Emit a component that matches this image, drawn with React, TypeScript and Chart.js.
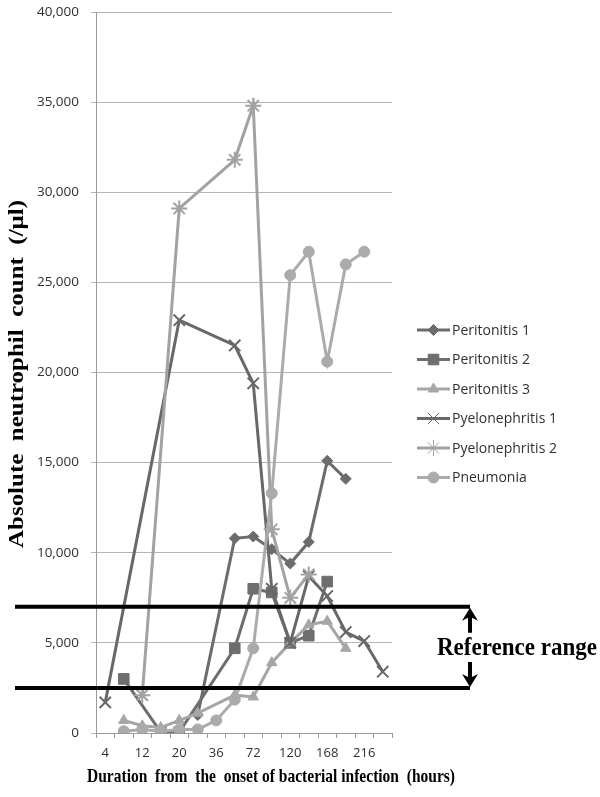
import React, { useEffect, useRef } from 'react';
import { Chart, registerables } from 'chart.js';
import { drawPoint } from 'chart.js/helpers';

Chart.register(...registerables);

// ---- data ----
const hours = ['4', '8', '12', '16', '20', '24', '36', '48', '72', '96', '120', '144', '168', '192', '216', '240'];
const seriesNames = ['Peritonitis 1', 'Peritonitis 2', 'Peritonitis 3', 'Pyelonephritis 1', 'Pyelonephritis 2', 'Pneumonia'];
const peritonitis1 = [null, null, null, null, null, 1000, null, 10800, 10900, 10200, 9400, 10600, 15100, 14100, null, null];
const peritonitis2 = [null, 3000, null, 50, 50, null, null, 4700, 8000, 7800, 5000, 5400, 8400, null, null, null];
const peritonitis3 = [null, 700, 400, 300, 700, 1100, null, 2100, 2000, 3900, 5000, 6000, 6200, 4700, null, null];
const pyelonephritis1 = [1700, null, null, null, 22900, null, null, 21500, 19400, 8000, 5000, 8700, 7600, 5600, 5100, 3400];
const pyelonephritis2 = [null, null, 2100, null, 29100, null, null, 31800, 34800, 11300, 7500, 8800, null, null, null, null];
const pneumonia = [null, 100, 200, 100, 200, 200, 700, 1850, 4700, 13300, 25400, 26700, 20600, 26000, 26700, null];
const referenceLow = 2500;
const referenceHigh = 7000;

const seriesValues = [peritonitis1, peritonitis2, peritonitis3, pyelonephritis1, pyelonephritis2, pneumonia];
const seriesColors = ['#6c6c6c', '#6e6e6e', '#a6a6a6', '#686868', '#a2a2a2', '#ababab'];
const seriesMarkers = ['rectRot', 'rect', 'triangle', 'crossRot', 'star', 'circle'];
const seriesRadii = [5.5, 7.5, 6, 8, 8, 5.5];

const SERIF = '"Liberation Serif", "Times New Roman", serif';
const SANS = '"Open Sans", "Noto Sans", sans-serif';

function fitText(ctx: CanvasRenderingContext2D, text: string, cx: number, cy: number, width: number, font: string, rotate = false) {
  ctx.save();
  ctx.font = font;
  ctx.fillStyle = '#000';
  ctx.textAlign = 'center';
  ctx.textBaseline = 'middle';
  const w = ctx.measureText(text).width;
  ctx.translate(cx, cy);
  if (rotate) ctx.rotate(-Math.PI / 2);
  ctx.scale(width / w, 1);
  ctx.fillText(text, 0, 0);
  ctx.restore();
}

const overlayPlugin = {
  id: 'overlay',
  afterDraw(chart: any) {
    const ctx: CanvasRenderingContext2D = chart.ctx;
    const yScale = chart.scales.y;
    const yHi = yScale.getPixelForValue(referenceHigh);
    const yLo = yScale.getPixelForValue(referenceLow);
    const lineStart = 15;
    const lineEnd = 470;

    // reference lines
    ctx.save();
    ctx.strokeStyle = '#000';
    ctx.lineWidth = 4;
    ctx.beginPath();
    ctx.moveTo(lineStart, yHi);
    ctx.lineTo(lineEnd, yHi);
    ctx.moveTo(lineStart, yLo);
    ctx.lineTo(lineEnd, yLo);
    ctx.stroke();

    // arrows
    ctx.fillStyle = '#000';
    ctx.lineWidth = 4;
    ctx.beginPath();
    ctx.moveTo(lineEnd, yHi + 26);
    ctx.lineTo(lineEnd, yHi + 10);
    ctx.moveTo(lineEnd, yLo - 26);
    ctx.lineTo(lineEnd, yLo - 10);
    ctx.stroke();
    ctx.beginPath();
    ctx.moveTo(lineEnd, yHi + 1);
    ctx.lineTo(lineEnd - 8, yHi + 14);
    ctx.lineTo(lineEnd, yHi + 10);
    ctx.lineTo(lineEnd + 8, yHi + 14);
    ctx.closePath();
    ctx.fill();
    ctx.beginPath();
    ctx.moveTo(lineEnd, yLo - 1);
    ctx.lineTo(lineEnd - 8, yLo - 14);
    ctx.lineTo(lineEnd, yLo - 10);
    ctx.lineTo(lineEnd + 8, yLo - 14);
    ctx.closePath();
    ctx.fill();
    ctx.restore();

    fitText(ctx, 'Reference range', 517, (yHi + yLo) / 2 + 1, 160, `bold 26px ${SERIF}`);

    // axis titles
    fitText(ctx, 'Absolute  neutrophil  count  (/μl)', 17, 374, 348, `bold 22px ${SERIF}`, true);
    fitText(ctx, 'Duration  from  the  onset of bacterial infection  (hours)', 271, 777, 368, `bold 19px ${SERIF}`);

    // legend
    ctx.save();
    const lx0 = 417;
    const lx1 = 450;
    seriesNames.forEach((name, i) => {
      const y = 330 + i * 29.5;
      const color = seriesColors[i];
      ctx.strokeStyle = color;
      ctx.lineWidth = 3;
      ctx.beginPath();
      ctx.moveTo(lx0, y);
      ctx.lineTo(lx1, y);
      ctx.stroke();
      ctx.fillStyle = color;
      ctx.strokeStyle = color;
      ctx.lineWidth = 1;
      drawPoint(ctx, { pointStyle: seriesMarkers[i], radius: seriesRadii[i], rotation: 0, borderWidth: 1 } as any, (lx0 + lx1) / 2, y);
      ctx.fillStyle = '#303030';
      ctx.font = `14px ${SANS}`;
      ctx.textAlign = 'left';
      ctx.textBaseline = 'middle';
      ctx.fillText(name, 452, y + 1);
    });
    ctx.restore();
  },
};

export default function App() {
  const canvasRef = useRef<HTMLCanvasElement | null>(null);

  useEffect(() => {
    document.body.style.margin = '0';
    const canvas = canvasRef.current;
    if (!canvas) return;
    const datasets = seriesNames.map((name, i) => ({
      label: name,
      data: seriesValues[i],
      borderColor: seriesColors[i],
      backgroundColor: seriesColors[i],
      pointBackgroundColor: seriesColors[i],
      pointBorderColor: seriesColors[i],
      borderWidth: 3,
      pointStyle: seriesMarkers[i],
      pointRadius: seriesRadii[i],
      pointBorderWidth: seriesMarkers[i] === 'crossRot' || seriesMarkers[i] === 'star' ? 2 : 1,
      spanGaps: true,
      tension: 0,
      order: 5 - i,
    }));
    const chart = new Chart(canvas, {
      type: 'line',
      data: { labels: hours, datasets },
      options: {
        animation: false,
        responsive: true,
        maintainAspectRatio: false,
        devicePixelRatio: 1,
        layout: { padding: { left: 0, right: 208, top: 12, bottom: 0 } },
        plugins: { legend: { display: false }, tooltip: { enabled: false }, title: { display: false } },
        scales: {
          x: {
            type: 'category',
            offset: true,
            grid: { offset: true, drawOnChartArea: false, drawTicks: true, tickLength: 5, color: '#9a9a9a' },
            border: { color: '#9a9a9a', width: 1 },
            ticks: {
              autoSkip: false,
              maxRotation: 0,
              minRotation: 0,
              padding: 7,
              color: '#303030',
              font: { family: SANS, size: 13 },
              callback: (_v: any, idx: number) => (idx % 2 === 0 ? hours[idx] : ''),
            },
            afterFit: (scale: any) => { scale.height = 64; scale.paddingLeft = 0; scale.paddingRight = 0; },
          },
          y: {
            min: 0,
            max: 40000,
            grid: { color: '#b4b4b4', tickLength: 5, lineWidth: 1 },
            border: { color: '#9a9a9a', width: 1 },
            ticks: {
              stepSize: 5000,
              padding: 12,
              color: '#303030',
              font: { family: SANS, size: 13.5 },
              callback: (v: any) => Number(v).toLocaleString('en-US'),
            },
            afterFit: (scale: any) => { scale.width = 96; scale.paddingTop = 0; scale.paddingBottom = 0; },
          },
        },
      },
      plugins: [overlayPlugin],
    });
    return () => chart.destroy();
  }, []);

  return (
    <div style={{ position: 'relative', width: 600, height: 797, background: '#fff' }}>
      <canvas ref={canvasRef} />
    </div>
  );
}
